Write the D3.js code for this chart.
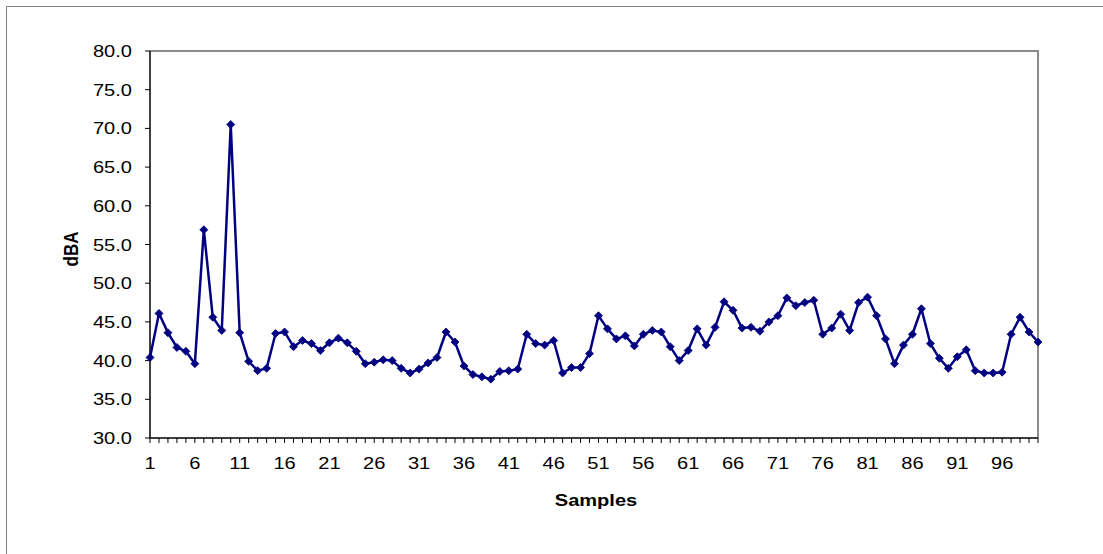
<!DOCTYPE html>
<html>
<head>
<meta charset="utf-8">
<script src="https://cdn.jsdelivr.net/npm/d3@7"></script>
<style>
  body { margin: 0; background: #fff; }
  text { font-family: "Liberation Sans", Arial, sans-serif; fill: #000; }
</style>
</head>
<body>
<div id="chart"></div>
<script>
// noise level readings, one per sample
var samples = d3.range(1, 101);
var dba = [
  40.4, 46.1, 43.6, 41.7, 41.2, 39.6, 56.9, 45.6, 43.9, 70.5,
  43.6, 39.9, 38.7, 39.0, 43.5, 43.7, 41.8, 42.6, 42.2, 41.3,
  42.3, 42.9, 42.3, 41.2, 39.6, 39.8, 40.1, 40.0, 39.0, 38.4,
  38.9, 39.7, 40.4, 43.7, 42.4, 39.3, 38.2, 37.9, 37.6, 38.6,
  38.7, 38.9, 43.4, 42.2, 42.0, 42.6, 38.4, 39.1, 39.1, 40.9,
  45.8, 44.1, 42.8, 43.2, 41.9, 43.4, 43.9, 43.7, 41.8, 40.0,
  41.3, 44.1, 42.0, 44.3, 47.6, 46.5, 44.2, 44.3, 43.8, 45.0,
  45.8, 48.1, 47.1, 47.5, 47.8, 43.4, 44.2, 46.0, 43.9, 47.5,
  48.2, 45.8, 42.8, 39.6, 42.0, 43.4, 46.7, 42.2, 40.3, 39.0,
  40.5, 41.4, 38.7, 38.4, 38.4, 38.5, 43.4, 45.6, 43.7, 42.4
];
var yTicks = [30, 35, 40, 45, 50, 55, 60, 65, 70, 75, 80];
var xLabels = samples.filter(function (d) { return (d - 1) % 5 === 0; });

var W = 1103, H = 554;
var plot = { left: 150, right: 1038, top: 51, bottom: 438 };
var stretch = 1.18; // the original text is wider than it is tall

var svg = d3.select("#chart").append("svg")
  .attr("width", W).attr("height", H);

// chart area border (only top and left show in frame)
svg.append("line").attr("x1", 6.5).attr("x2", W).attr("y1", 6.5).attr("y2", 6.5)
  .attr("stroke", "#808080").attr("stroke-width", 1);
svg.append("line").attr("x1", 6.5).attr("x2", 6.5).attr("y1", 6.5).attr("y2", H)
  .attr("stroke", "#808080").attr("stroke-width", 1);

var x = d3.scaleLinear().domain([1, 100]).range([plot.left, plot.right]);
var y = d3.scaleLinear().domain([30, 80]).range([plot.bottom, plot.top]);

// plot area border, grey on top and right
svg.append("path")
  .attr("d", "M" + plot.left + "," + plot.top + "H" + plot.right + "V" + plot.bottom)
  .attr("fill", "none").attr("stroke", "#8c8c8c").attr("stroke-width", 2);

// y axis
var yAxis = svg.append("g");
yAxis.append("line")
  .attr("x1", plot.left).attr("x2", plot.left)
  .attr("y1", y(80)).attr("y2", y(30))
  .attr("stroke", "#000").attr("stroke-width", 1.5);
yAxis.selectAll(".ytick").data(yTicks).enter().append("line")
  .attr("x1", plot.left - 5).attr("x2", plot.left)
  .attr("y1", function (d) { return y(d); }).attr("y2", function (d) { return y(d); })
  .attr("stroke", "#000").attr("stroke-width", 1);
yAxis.selectAll(".ylab").data(yTicks).enter().append("text")
  .attr("transform", function (d) { return "translate(132," + (y(d) + 6) + ") scale(" + stretch + ",1)"; })
  .attr("text-anchor", "end")
  .style("font-size", "17px")
  .text(function (d) { return d.toFixed(1); });

// x axis
var xAxis = svg.append("g");
xAxis.append("line")
  .attr("x1", plot.left).attr("x2", plot.right)
  .attr("y1", plot.bottom).attr("y2", plot.bottom)
  .attr("stroke", "#000").attr("stroke-width", 1.5);
xAxis.selectAll(".xtick").data(samples).enter().append("line")
  .attr("x1", function (d) { return x(d); }).attr("x2", function (d) { return x(d); })
  .attr("y1", plot.bottom).attr("y2", plot.bottom + 5)
  .attr("stroke", "#000").attr("stroke-width", 1);
xAxis.selectAll(".xlab").data(xLabels).enter().append("text")
  .attr("transform", function (d) { return "translate(" + x(d) + ",469) scale(" + stretch + ",1)"; })
  .attr("text-anchor", "middle")
  .style("font-size", "17px")
  .text(function (d) { return d; });

// axis titles
svg.append("text")
  .attr("transform", "translate(596,506) scale(" + stretch + ",1)")
  .attr("text-anchor", "middle")
  .style("font-size", "17px").style("font-weight", "bold")
  .text("Samples");
svg.append("text")
  .attr("transform", "translate(78,249) scale(" + stretch + ",1) rotate(-90)")
  .attr("text-anchor", "middle")
  .style("font-size", "17px").style("font-weight", "bold")
  .text("dBA");

// the series
var line = d3.line()
  .x(function (d, i) { return x(samples[i]); })
  .y(function (d) { return y(d); });

svg.append("path")
  .datum(dba)
  .attr("d", line)
  .attr("fill", "none")
  .attr("stroke", "#000080")
  .attr("stroke-width", 2.5)
  .attr("stroke-linejoin", "round");

svg.selectAll(".mark").data(dba).enter().append("path")
  .attr("transform", function (d, i) { return "translate(" + x(samples[i]) + "," + y(d) + ")"; })
  .attr("d", "M0,-4L4,0L0,4L-4,0Z")
  .attr("fill", "#000080")
  .attr("stroke", "#000080")
  .attr("stroke-width", 0.8);
</script>
</body>
</html>
